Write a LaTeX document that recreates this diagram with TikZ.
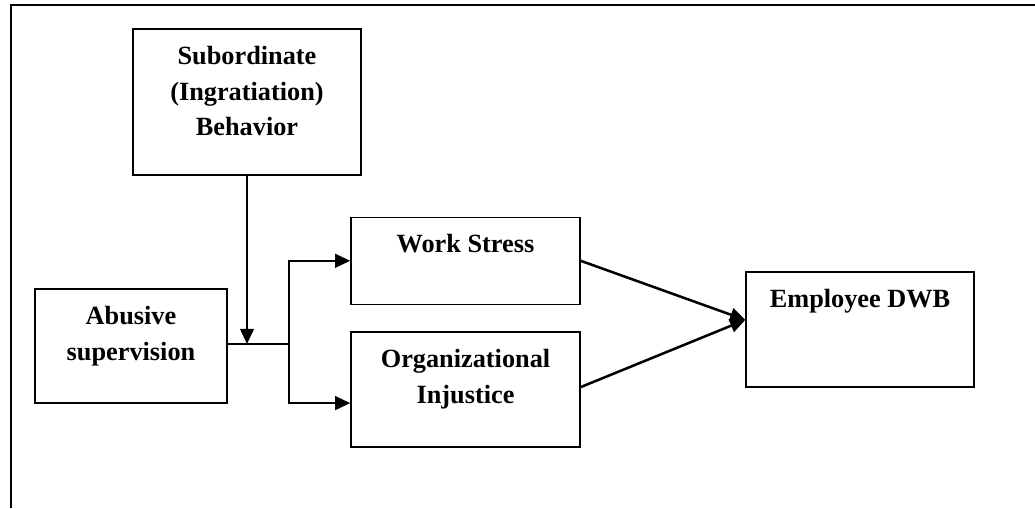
\documentclass[tikz,border=0pt]{standalone}
\usepackage{fontspec}
\setmainfont{Liberation Serif}
\usetikzlibrary{arrows.meta,positioning,calc}

\begin{document}
\begin{tikzpicture}[
font=\fontsize{18.7}{25.6}\selectfont\bfseries,
box/.style={
  draw,
  line width=1pt,
  rectangle,
  inner sep=0pt
  },
boxtext/.style={
  anchor=north,
  align=center,
  inner sep=0.43cm
  },
link/.style={
  line width=1.8pt
  },
>={Triangle[length=0.38cm,width=0.34cm]}
]

\useasboundingbox (0,0) rectangle (25.875,12.7);

% frame
\draw[line width=0.8pt] (25.875,12.575) -- (0.275,12.575) -- (0.275,0);

% boxes
\node[box, minimum width=5.7cm, minimum height=3.65cm,
  label={[boxtext]north:Subordinate\\(Ingratiation)\\Behavior}] (sub) at (6.175,10.15) {};
\node[box, minimum width=4.8cm, minimum height=2.85cm,
  label={[boxtext]north:Abusive\\supervision}] (abu) at (3.275,4.05) {};
\node[box, minimum width=5.725cm, minimum height=2.175cm,
  label={[boxtext]north:Work Stress}] (ws) at (11.6375,6.18) {};
\node[box, minimum width=5.725cm, minimum height=2.875cm,
  label={[boxtext]north:Organizational\\Injustice}] (oi) at (11.6375,2.9625) {};
\node[box, minimum width=5.7cm, minimum height=2.875cm,
  label={[boxtext]north:Employee DWB}] (dwb) at (21.5,4.4625) {};

% connectors
\coordinate (split) at (7.225,4.1);
\coordinate (meet) at (sub.south |- split);
\coordinate (dwbin) at ([yshift=0.24cm]dwb.west);

\draw[link] (abu.east |- split) -- (split);
\draw[link][->] (sub.south) -- (meet);
\draw[link][->] (split) |- (ws.west);
\draw[link][->] (split) |- ([yshift=-0.34cm]oi.west);
\draw[link][->] (ws.east) -- (dwbin);
\draw[link][->] ([yshift=0.06cm]oi.east) -- (dwbin);

\end{tikzpicture}
\end{document}
